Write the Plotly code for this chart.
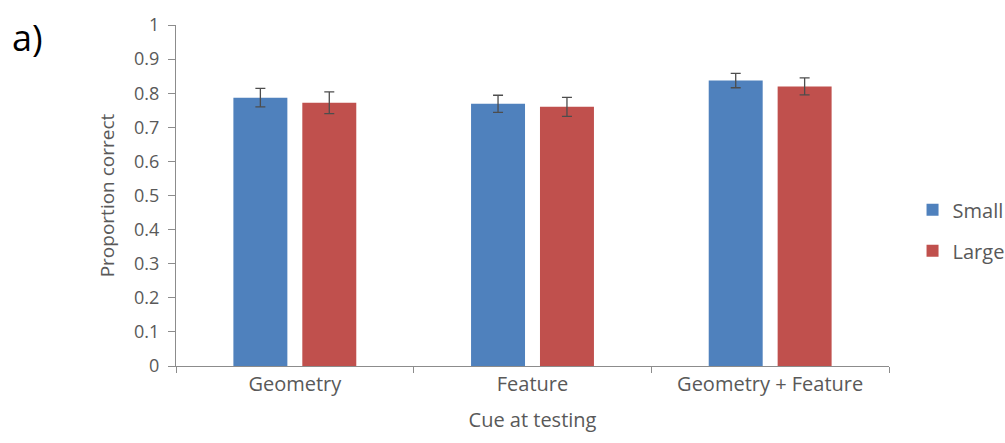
import plotly.graph_objects as go

# Mean proportion correct per cue condition, with standard-error bars
categories = ["Geometry", "Feature", "Geometry + Feature"]
small_mean = [0.787, 0.769, 0.837]
small_err = [0.027, 0.025, 0.021]
large_mean = [0.772, 0.760, 0.820]
large_err = [0.032, 0.028, 0.025]
y_ticks = [0, 0.1, 0.2, 0.3, 0.4, 0.5, 0.6, 0.7, 0.8, 0.9, 1]
y_tick_labels = ["0", "0.1", "0.2", "0.3", "0.4", "0.5", "0.6", "0.7", "0.8", "0.9", "1"]

FONT = "Open Sans"
GREY_TEXT = "#595959"
AXIS_GREY = "#8c8c8c"
ERR_COLOR = "#4d4d4d"

fig = go.Figure()
fig.add_trace(go.Bar(
    x=categories, y=small_mean, name="Small", legendgroup="s",
    marker=dict(color="#4F81BD", line=dict(width=0)),
    error_y=dict(type="data", array=small_err, color=ERR_COLOR, thickness=1.3, width=5),
))
fig.add_trace(go.Bar(
    x=categories, y=large_mean, name="Large", legendgroup="l",
    marker=dict(color="#C0504D", line=dict(width=0)),
    error_y=dict(type="data", array=large_err, color=ERR_COLOR, thickness=1.3, width=5),
))

fig.update_layout(
    width=1005, height=443,
    margin=dict(l=176, r=116, t=16, b=77),
    paper_bgcolor="white", plot_bgcolor="white",
    barmode="group", bargap=0.42, bargroupgap=0.217,
    font=dict(family=FONT, color=GREY_TEXT, size=18),
    legend=dict(
        xref="container", yref="container",
        x=0.908, y=0.48, xanchor="left", yanchor="middle",
        font=dict(family=FONT, size=20, color=GREY_TEXT),
        itemwidth=30, tracegroupgap=12, bgcolor="rgba(0,0,0,0)",
    ),
    showlegend=True,
)

fig.update_xaxes(
    type="category", showline=True, linecolor=AXIS_GREY, linewidth=1,
    ticks="outside", tickson="boundaries", ticklen=6, tickcolor=AXIS_GREY,
    showgrid=False, tickfont=dict(size=20, color=GREY_TEXT),
    title=dict(text="Cue at testing", font=dict(size=20, color=GREY_TEXT), standoff=16),
)
fig.update_yaxes(
    range=[0, 1], tickvals=y_ticks, ticktext=y_tick_labels,
    showline=True, linecolor=AXIS_GREY, linewidth=1,
    ticks="outside", ticklen=7, tickcolor=AXIS_GREY, ticklabelstandoff=5,
    showgrid=False, zeroline=False, tickfont=dict(size=18, color=GREY_TEXT),
    title=dict(text="Proportion correct", font=dict(size=19, color=GREY_TEXT), standoff=14),
)

fig.add_annotation(
    text="a)", xref="paper", yref="paper", x=-0.233, y=0.963,
    xanchor="left", yanchor="middle", showarrow=False,
    font=dict(family=FONT, size=36, color="black"),
)

fig.write_html("out.html")
